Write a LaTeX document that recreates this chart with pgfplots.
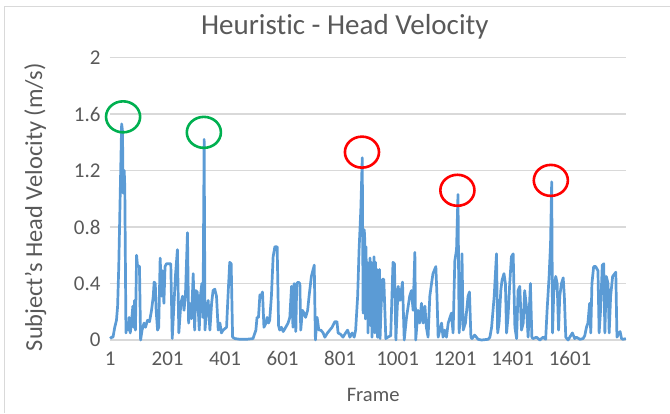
\documentclass[border=0pt]{standalone}
\usepackage{pgfplots}
\pgfplotsset{compat=1.18}
\usepackage{fontspec}
\setmainfont{Carlito}[Ligatures={NoCommon}]
\definecolor{linec}{HTML}{5B9BD5}
\definecolor{gridc}{HTML}{D9D9D9}
\definecolor{textc}{HTML}{595959}
\definecolor{gr}{HTML}{00B050}
\definecolor{rd}{HTML}{FF0000}
\begin{document}
\begin{tikzpicture}[x=1pt,y=1pt]
\useasboundingbox (-110,-73) rectangle (560,340);
\draw[gridc, line width=1pt] (-105,-73) -- (-105,333) -- (560,333);
\begin{axis}[
  at={(0,0)}, anchor=south west,
  width=516pt, height=282.5pt, scale only axis,
  xmin=0.5, xmax=1795.5, ymin=0, ymax=2,
  xtick={1,201,401,601,801,1001,1201,1401,1601},
  xticklabels={1,201,401,601,801,1001,1201,1401,1601},
  ytick={0,0.4,0.8,1.2,1.6,2},
  yticklabels={0,0.4,0.8,1.2,1.6,2},
  axis line style={draw=none}, major tick length=0pt,
  ymajorgrids, grid style={gridc, line width=1.3pt},
  ticklabel style={font=\fontsize{21}{24}\selectfont, text=textc},
  yticklabel style={xshift=-6pt},
  xticklabel style={yshift=-8pt},
  xlabel={Frame}, ylabel={Subject's Head Velocity (m/s)},
  xlabel style={font=\fontsize{20.6}{24}\selectfont, text=textc, at={(axis description cs:0.51,-0.195)}, anchor=center},
  ylabel style={font=\fontsize{24.4}{28}\selectfont, text=textc, at={(axis description cs:-0.145,0.47)}, anchor=center},
  title={Heuristic - Head Velocity},
  title style={font=\fontsize{29}{32}\selectfont, text=textc, at={(axis description cs:0.455,1.087)}, anchor=center},
  clip=false,
]
\addplot[linec, line width=2.7pt, line join=round] coordinates {
(1,0.01)(6,0.02)(11,0.02)(17,0.09)(23,0.14)(27,0.24)(31,0.52)(36,1.03)(41,1.53)(44,1.48)(46,1.04)(50,1.2)(52,1.08)(56,0.05)(59,0.12)(64,0.07)(67,0.16)(71,0.05)(75,0.12)(80,0.24)(82,0.09)(86,0.28)(89,0.07)(93,0.6)(96,0.53)(103,0.52)(107,0.0)(112,0.07)(119,0.12)(124,0.09)(131,0.14)(138,0.13)(145,0.21)(151,0.31)(154,0.41)(158,0.4)(161,0.21)(166,0.07)(170,0.09)(175,0.58)(180,0.31)(183,0.49)(188,0.26)(192,0.52)(197,0.54)(212,0.54)(217,0.01)(222,0.21)(228,0.45)(235,0.64)(240,0.05)(247,0.26)(253,0.31)(258,0.21)(263,0.32)(270,0.76)(274,0.12)(278,0.26)(284,0.15)(290,0.47)(295,0.07)(299,0.35)(304,0.34)(307,0.24)(311,0.07)(315,0.31)(320,0.4)(324,0.16)(328,1.42)(331,0.07)(336,0.21)(342,0.28)(348,0.07)(354,0.26)(359,0.35)(365,0.36)(371,0.31)(377,0.07)(383,0.12)(388,0.05)(394,0.07)(406,0.09)(411,0.31)(417,0.55)(422,0.54)(427,0.02)(435,0.01)(452,0.005)(475,0.005)(498,0.01)(508,0.07)(512,0.16)(517,0.16)(522,0.32)(526,0.31)(531,0.34)(536,0.09)(543,0.12)(547,0.16)(552,0.12)(556,0.14)(562,0.31)(568,0.59)(574,0.66)(582,0.66)(587,0.1)(591,0.07)(597,0.09)(603,0.06)(609,0.08)(620,0.12)(626,0.16)(632,0.38)(637,0.09)(641,0.4)(647,0.06)(650,0.4)(655,0.41)(661,0.4)(664,0.07)(670,0.21)(676,0.19)(681,0.16)(688,0.21)(693,0.31)(701,0.45)(711,0.53)(715,0.0)(721,0.16)(727,0.07)(734,0.07)(742,0.05)(748,0.02)(757,0.05)(765,0.07)(773,0.09)(783,0.13)(790,0.13)(794,0.05)(803,0.04)(811,0.02)(820,0.05)(827,0.07)(835,0.02)(843,0.05)(850,0.02)(855,0.07)(862,0.31)(867,0.64)(873,0.92)(878,1.29)(881,0.19)(885,0.78)(887,0.7)(889,0.15)(891,0.66)(894,0.2)(896,0.55)(898,0.05)(901,0.45)(903,0.15)(905,0.58)(908,0.1)(910,0.55)(912,0.02)(915,0.52)(917,0.1)(919,0.59)(922,0.05)(924,0.55)(926,0.2)(929,0.5)(931,0.02)(933,0.45)(936,0.05)(938,0.5)(940,0.01)(943,0.2)(948,0.43)(953,0.43)(960,0.01)(967,0.02)(977,0.03)(985,0.55)(990,0.54)(995,0.0)(1003,0.38)(1009,0.28)(1018,0.41)(1024,0.0)(1032,0.16)(1043,0.31)(1049,0.35)(1055,0.21)(1061,0.62)(1064,0.0)(1072,0.21)(1078,0.12)(1084,0.26)(1090,0.12)(1096,0.24)(1101,0.09)(1107,0.02)(1113,0.31)(1119,0.4)(1124,0.47)(1134,0.52)(1138,0.31)(1142,0.02)(1148,0.07)(1154,0.12)(1159,0.02)(1165,0.07)(1171,0.02)(1177,0.12)(1188,0.19)(1194,0.05)(1200,0.56)(1206,0.64)(1211,1.03)(1215,0.05)(1221,0.24)(1225,0.61)(1229,0.07)(1237,0.12)(1246,0.31)(1251,0.34)(1256,0.02)(1260,0.01)(1269,0.035)(1275,0.02)(1281,0.005)(1293,0)(1316,0.005)(1322,0.02)(1328,0.09)(1337,0.31)(1345,0.61)(1349,0.05)(1354,0.12)(1360,0.35)(1364,0.42)(1371,0.47)(1376,0.4)(1380,0.05)(1385,0.16)(1391,0.4)(1397,0.59)(1403,0.61)(1409,0.09)(1415,0.01)(1420,0.35)(1426,0.38)(1432,0.07)(1438,0.12)(1443,0.35)(1449,0.24)(1455,0.02)(1463,0.4)(1468,0.02)(1472,0.01)(1484,0.02)(1496,0)(1507,0.02)(1516,0.005)(1521,0.21)(1528,0.45)(1533,0.68)(1537,1.12)(1540,0.05)(1544,0.33)(1551,0.45)(1556,0.4)(1561,0.07)(1565,0.31)(1571,0.4)(1577,0.44)(1581,0.31)(1586,0.02)(1594,0)(1600,0.02)(1609,0.05)(1617,0.01)(1623,0.02)(1635,0.005)(1646,0.01)(1652,0.03)(1658,0.09)(1663,0.12)(1669,0.26)(1673,0.05)(1677,0.4)(1683,0.52)(1690,0.52)(1698,0.49)(1702,0.05)(1707,0.21)(1713,0.53)(1718,0.54)(1722,0.05)(1727,0.45)(1733,0.4)(1737,0.05)(1742,0.31)(1749,0.45)(1760,0.48)(1764,0.02)(1771,0.05)(1775,0.06)(1780,0.01)(1785,0.005)(1795,0.01)
};
\addplot[only marks, mark=o, mark size=15.5pt, mark options={draw=gr, line width=2.6pt, xscale=1.1}] coordinates {(46,1.58)(327,1.47)};
\addplot[only marks, mark=o, mark size=15.5pt, mark options={draw=rd, line width=2.6pt, xscale=1.1}] coordinates {(877,1.33)(1209,1.06)(1534,1.13)};
\end{axis}
\end{tikzpicture}
\end{document}
